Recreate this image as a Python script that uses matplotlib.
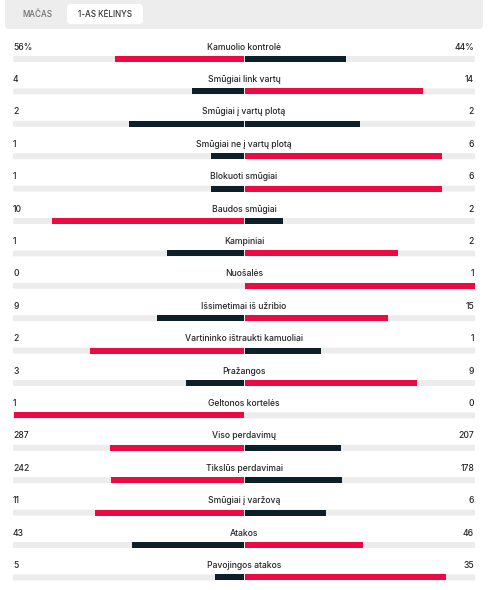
import numpy as np
import matplotlib.pyplot as plt
from matplotlib.patches import FancyBboxPatch

plt.rcParams['font.family'] = ['Inter', 'DejaVu Sans']

# data
labels = ["Kamuolio kontrolė", "Smūgiai link vartų", "Smūgiai į vartų plotą",
          "Smūgiai ne į vartų plotą", "Blokuoti smūgiai", "Baudos smūgiai",
          "Kampiniai", "Nuošalės", "Išsimetimai iš užribio",
          "Vartininko ištraukti kamuoliai", "Pražangos", "Geltonos kortelės",
          "Viso perdavimų", "Tikslūs perdavimai", "Smūgiai į varžovą",
          "Atakos", "Pavojingos atakos"]
home = [56, 4, 2, 1, 1, 10, 1, 0, 9, 2, 3, 1, 287, 242, 11, 43, 5]
away = [44, 14, 2, 6, 6, 2, 2, 1, 15, 1, 9, 0, 207, 178, 6, 46, 35]
home_txt = ["56%"] + [str(v) for v in home[1:]]
away_txt = ["44%"] + [str(v) for v in away[1:]]
tabs = ["MAČAS", "1-AS KĖLINYS"]

RED = '#ec0a42'
DARK = '#0d1f29'
TRACK = '#ececec'
TXT = '#262626'

fig = plt.figure(figsize=(4.88, 5.90), dpi=100)
ax = fig.add_axes([0, 0, 1, 1])
ax.set_xlim(0, 488)
ax.set_ylim(590, 0)
ax.axis('off')

# header
ax.add_patch(FancyBboxPatch((5, -6), 478, 35, boxstyle="round,pad=0,rounding_size=4",
                            fc='#ededed', ec='none'))
ax.add_patch(FancyBboxPatch((67, 4), 76, 20, boxstyle="round,pad=0,rounding_size=4",
                            fc='white', ec='none'))
ax.text(37, 14.5, tabs[0], ha='center', va='center', fontsize=5.8, color='#6f6f6f',
        fontweight='medium')
ax.text(105, 14.5, tabs[1], ha='center', va='center', fontsize=5.8, color='#333333',
        fontweight='medium')

cx = 244
half = 231
x0, x1 = 13, 475
step = 32.4
bh = 6

for i, (lab, h, a) in enumerate(zip(labels, home, away)):
    ty = 47 + i * step
    by = 59 + i * step
    ax.text(cx, ty, lab, ha='center', va='center', fontsize=6.2, color=TXT,
            fontweight='medium')
    ax.text(x0, ty, home_txt[i], ha='left', va='center', fontsize=6.2, color=TXT,
            fontweight='medium')
    ax.text(x1 - 1, ty, away_txt[i], ha='right', va='center', fontsize=6.2, color=TXT,
            fontweight='medium')
    ax.add_patch(FancyBboxPatch((x0, by - bh / 2), x1 - x0, bh,
                                boxstyle="round,pad=0,rounding_size=1.5",
                                fc=TRACK, ec='none'))
    tot = h + a
    fh = h / tot if tot else 0
    fa = a / tot if tot else 0
    ch = RED if h > a else DARK
    ca = RED if a > h else DARK
    ax.barh(by, -fh * (half - 1), left=cx - 0.5, height=bh, color=ch, linewidth=0)
    ax.barh(by, fa * (half - 1), left=cx + 0.5, height=bh, color=ca, linewidth=0)

fig.savefig('out.png', dpi=100, facecolor='white')
